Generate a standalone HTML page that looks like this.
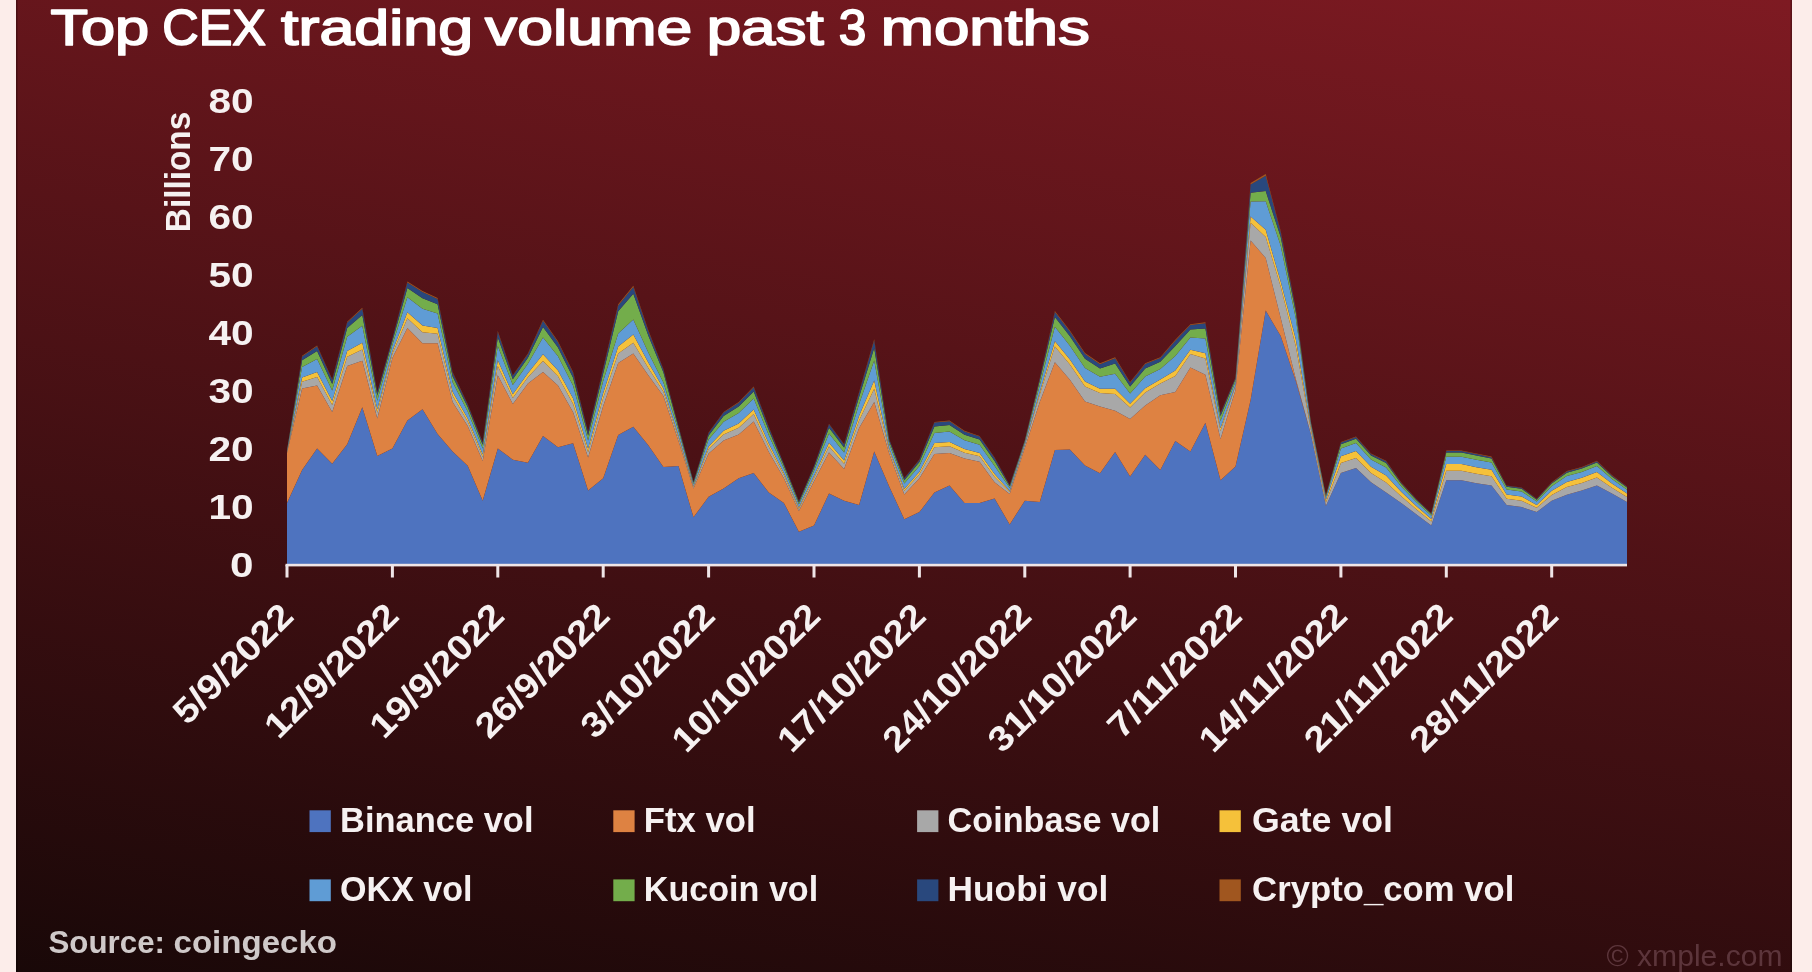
<!DOCTYPE html>
<html lang="en">
<head>
<meta charset="utf-8">
<title>Top CEX trading volume past 3 months</title>
<style>
html,body{margin:0;padding:0;}
body{width:1812px;height:972px;overflow:hidden;background:#fcedea;position:relative;font-family:"Liberation Sans",sans-serif;}
.card{position:absolute;left:16px;top:0;width:1776px;height:972px;background:linear-gradient(9.7deg,#190808 0%,#7e1a22 100%);box-shadow:inset 1.5px 0 0 rgba(0,0,0,0.28),inset -1.5px 0 0 rgba(0,0,0,0.28);}
svg{position:absolute;left:0;top:0;display:block;filter:blur(0.45px);}
text{font-family:"Liberation Sans",sans-serif;}
.cal{font-weight:bold;fill:#f6f1f1;}
.pop{font-weight:normal;fill:#ffffff;stroke:#ffffff;stroke-width:1.7px;stroke-linejoin:round;}
.src{font-weight:bold;fill:#cfc9c9;}
.wm{font-weight:normal;fill:#5c353b;}
</style>
</head>
<body>
<div class="card"></div>
<svg width="1812" height="972" viewBox="0 0 1812 972">
<g id="areas">
<polygon fill="#4e73bf" points="287.0,502.9 302.1,470.0 317.1,448.4 332.2,463.8 347.2,444.2 362.3,407.2 377.3,456.0 392.4,448.4 407.4,420.6 422.5,409.3 437.6,434.0 452.6,451.4 467.7,465.8 482.7,500.8 497.8,448.4 512.8,459.7 527.9,462.8 543.0,436.0 558.0,447.3 573.1,443.2 588.1,490.5 603.2,478.2 618.2,435.0 633.3,426.7 648.3,445.3 663.4,466.9 678.5,466.0 693.5,517.3 708.6,496.7 723.6,488.5 738.7,478.2 753.7,473.0 768.8,492.6 783.9,502.9 798.9,531.7 814.0,525.5 829.0,493.6 844.1,500.8 859.1,504.9 874.2,451.4 889.2,486.4 904.3,519.3 919.4,512.1 934.4,492.6 949.5,485.4 964.5,502.9 979.6,502.9 994.6,498.5 1009.7,524.5 1024.8,500.8 1039.8,501.9 1054.9,450.0 1069.9,449.5 1085.0,465.5 1100.0,473.2 1115.1,452.0 1130.1,476.5 1145.2,454.7 1160.3,470.1 1175.3,441.0 1190.4,451.6 1205.4,422.8 1220.5,480.2 1235.5,466.5 1250.6,400.0 1265.7,310.5 1280.7,336.0 1295.8,381.0 1310.8,434.0 1325.9,506.0 1340.9,473.0 1356.0,468.0 1371.0,482.3 1386.1,492.6 1401.2,502.9 1416.2,514.2 1431.3,525.5 1446.3,480.2 1461.4,480.2 1476.4,483.3 1491.5,485.4 1506.6,504.9 1521.6,507.0 1536.7,512.1 1551.7,500.8 1566.8,494.7 1581.8,490.5 1596.9,485.4 1611.9,493.6 1627.0,501.9 1627.0,565.0 1611.9,565.0 1596.9,565.0 1581.8,565.0 1566.8,565.0 1551.7,565.0 1536.7,565.0 1521.6,565.0 1506.6,565.0 1491.5,565.0 1476.4,565.0 1461.4,565.0 1446.3,565.0 1431.3,565.0 1416.2,565.0 1401.2,565.0 1386.1,565.0 1371.0,565.0 1356.0,565.0 1340.9,565.0 1325.9,565.0 1310.8,565.0 1295.8,565.0 1280.7,565.0 1265.7,565.0 1250.6,565.0 1235.5,565.0 1220.5,565.0 1205.4,565.0 1190.4,565.0 1175.3,565.0 1160.3,565.0 1145.2,565.0 1130.1,565.0 1115.1,565.0 1100.0,565.0 1085.0,565.0 1069.9,565.0 1054.9,565.0 1039.8,565.0 1024.8,565.0 1009.7,565.0 994.6,565.0 979.6,565.0 964.5,565.0 949.5,565.0 934.4,565.0 919.4,565.0 904.3,565.0 889.2,565.0 874.2,565.0 859.1,565.0 844.1,565.0 829.0,565.0 814.0,565.0 798.9,565.0 783.9,565.0 768.8,565.0 753.7,565.0 738.7,565.0 723.6,565.0 708.6,565.0 693.5,565.0 678.5,565.0 663.4,565.0 648.3,565.0 633.3,565.0 618.2,565.0 603.2,565.0 588.1,565.0 573.1,565.0 558.0,565.0 543.0,565.0 527.9,565.0 512.8,565.0 497.8,565.0 482.7,565.0 467.7,565.0 452.6,565.0 437.6,565.0 422.5,565.0 407.4,565.0 392.4,565.0 377.3,565.0 362.3,565.0 347.2,565.0 332.2,565.0 317.1,565.0 302.1,565.0 287.0,565.0"/>
<polygon fill="#de8242" points="287.0,453.0 302.1,388.6 317.1,385.5 332.2,412.0 347.2,366.0 362.3,360.8 377.3,418.4 392.4,358.0 407.4,327.9 422.5,343.3 437.6,343.3 452.6,402.0 467.7,426.0 482.7,461.0 497.8,375.2 512.8,404.0 527.9,383.5 543.0,372.1 558.0,385.5 573.1,412.3 588.1,457.6 603.2,406.0 618.2,362.9 633.3,353.6 648.3,375.2 663.4,396.0 678.5,441.0 693.5,488.5 708.6,453.5 723.6,440.5 738.7,434.5 753.7,421.5 768.8,452.0 783.9,478.2 798.9,511.0 814.0,481.3 829.0,452.5 844.1,468.9 859.1,428.0 874.2,402.0 889.2,453.5 904.3,494.5 919.4,478.2 934.4,454.0 949.5,453.0 964.5,458.5 979.6,461.7 994.6,482.3 1009.7,494.0 1024.8,448.0 1039.8,402.0 1054.9,362.3 1069.9,379.8 1085.0,401.4 1100.0,406.5 1115.1,410.7 1130.1,419.0 1145.2,405.5 1160.3,395.2 1175.3,392.1 1190.4,367.4 1205.4,374.7 1220.5,439.0 1235.5,390.0 1250.6,240.5 1265.7,258.0 1280.7,318.0 1295.8,379.0 1310.8,434.0 1325.9,506.0 1340.9,473.0 1356.0,468.0 1371.0,482.3 1386.1,492.6 1401.2,502.9 1416.2,514.2 1431.3,525.5 1446.3,480.2 1461.4,480.2 1476.4,483.3 1491.5,485.4 1506.6,504.9 1521.6,507.0 1536.7,512.1 1551.7,500.8 1566.8,494.7 1581.8,490.5 1596.9,485.4 1611.9,493.6 1627.0,501.9 1627.0,501.9 1611.9,493.6 1596.9,485.4 1581.8,490.5 1566.8,494.7 1551.7,500.8 1536.7,512.1 1521.6,507.0 1506.6,504.9 1491.5,485.4 1476.4,483.3 1461.4,480.2 1446.3,480.2 1431.3,525.5 1416.2,514.2 1401.2,502.9 1386.1,492.6 1371.0,482.3 1356.0,468.0 1340.9,473.0 1325.9,506.0 1310.8,434.0 1295.8,381.0 1280.7,336.0 1265.7,310.5 1250.6,400.0 1235.5,466.5 1220.5,480.2 1205.4,422.8 1190.4,451.6 1175.3,441.0 1160.3,470.1 1145.2,454.7 1130.1,476.5 1115.1,452.0 1100.0,473.2 1085.0,465.5 1069.9,449.5 1054.9,450.0 1039.8,501.9 1024.8,500.8 1009.7,524.5 994.6,498.5 979.6,502.9 964.5,502.9 949.5,485.4 934.4,492.6 919.4,512.1 904.3,519.3 889.2,486.4 874.2,451.4 859.1,504.9 844.1,500.8 829.0,493.6 814.0,525.5 798.9,531.7 783.9,502.9 768.8,492.6 753.7,473.0 738.7,478.2 723.6,488.5 708.6,496.7 693.5,517.3 678.5,466.0 663.4,466.9 648.3,445.3 633.3,426.7 618.2,435.0 603.2,478.2 588.1,490.5 573.1,443.2 558.0,447.3 543.0,436.0 527.9,462.8 512.8,459.7 497.8,448.4 482.7,500.8 467.7,465.8 452.6,451.4 437.6,434.0 422.5,409.3 407.4,420.6 392.4,448.4 377.3,456.0 362.3,407.2 347.2,444.2 332.2,463.8 317.1,448.4 302.1,470.0 287.0,502.9"/>
<polygon fill="#a8a8a8" points="287.0,452.4 302.1,381.7 317.1,377.1 332.2,405.1 347.2,356.7 362.3,349.6 377.3,412.8 392.4,353.8 407.4,318.2 422.5,332.3 437.6,333.8 452.6,395.7 467.7,421.4 482.7,457.0 497.8,365.9 512.8,398.0 527.9,377.2 543.0,361.1 558.0,376.2 573.1,403.9 588.1,452.2 603.2,398.0 618.2,353.5 633.3,342.7 648.3,368.0 663.4,391.7 678.5,437.9 693.5,487.0 708.6,449.1 723.6,434.5 738.7,427.7 753.7,414.1 768.8,446.7 783.9,475.2 798.9,508.9 814.0,478.0 829.0,446.5 844.1,463.7 859.1,420.4 874.2,388.8 889.2,450.5 904.3,491.0 919.4,474.3 934.4,447.3 949.5,446.2 964.5,452.7 979.6,456.3 994.6,477.1 1009.7,492.1 1024.8,445.5 1039.8,394.5 1054.9,346.4 1069.9,364.5 1085.0,386.4 1100.0,393.1 1115.1,394.1 1130.1,407.5 1145.2,392.4 1160.3,383.4 1175.3,375.9 1190.4,354.0 1205.4,358.4 1220.5,430.9 1235.5,386.1 1250.6,222.7 1265.7,237.0 1280.7,286.7 1295.8,346.3 1310.8,429.8 1325.9,502.5 1340.9,463.1 1356.0,457.9 1371.0,473.1 1386.1,482.4 1401.2,496.3 1416.2,509.3 1431.3,521.6 1446.3,470.7 1461.4,470.7 1476.4,473.8 1491.5,476.2 1506.6,498.7 1521.6,500.7 1536.7,507.8 1551.7,494.9 1566.8,487.1 1581.8,482.9 1596.9,477.5 1611.9,487.7 1627.0,496.9 1627.0,501.9 1611.9,493.6 1596.9,485.4 1581.8,490.5 1566.8,494.7 1551.7,500.8 1536.7,512.1 1521.6,507.0 1506.6,504.9 1491.5,485.4 1476.4,483.3 1461.4,480.2 1446.3,480.2 1431.3,525.5 1416.2,514.2 1401.2,502.9 1386.1,492.6 1371.0,482.3 1356.0,468.0 1340.9,473.0 1325.9,506.0 1310.8,434.0 1295.8,379.0 1280.7,318.0 1265.7,258.0 1250.6,240.5 1235.5,390.0 1220.5,439.0 1205.4,374.7 1190.4,367.4 1175.3,392.1 1160.3,395.2 1145.2,405.5 1130.1,419.0 1115.1,410.7 1100.0,406.5 1085.0,401.4 1069.9,379.8 1054.9,362.3 1039.8,402.0 1024.8,448.0 1009.7,494.0 994.6,482.3 979.6,461.7 964.5,458.5 949.5,453.0 934.4,454.0 919.4,478.2 904.3,494.5 889.2,453.5 874.2,402.0 859.1,428.0 844.1,468.9 829.0,452.5 814.0,481.3 798.9,511.0 783.9,478.2 768.8,452.0 753.7,421.5 738.7,434.5 723.6,440.5 708.6,453.5 693.5,488.5 678.5,441.0 663.4,396.0 648.3,375.2 633.3,353.6 618.2,362.9 603.2,406.0 588.1,457.6 573.1,412.3 558.0,385.5 543.0,372.1 527.9,383.5 512.8,404.0 497.8,375.2 482.7,461.0 467.7,426.0 452.6,402.0 437.6,343.3 422.5,343.3 407.4,327.9 392.4,358.0 377.3,418.4 362.3,360.8 347.2,366.0 332.2,412.0 317.1,385.5 302.1,388.6 287.0,453.0"/>
<polygon fill="#f5c13a" points="287.0,452.0 302.1,377.4 317.1,371.9 332.2,400.9 347.2,350.9 362.3,342.7 377.3,409.3 392.4,351.3 407.4,312.2 422.5,325.5 437.6,327.9 452.6,391.8 467.7,418.5 482.7,454.5 497.8,360.2 512.8,394.2 527.9,373.3 543.0,354.3 558.0,370.5 573.1,398.6 588.1,448.8 603.2,393.1 618.2,346.5 633.3,334.6 648.3,362.5 663.4,388.4 678.5,435.9 693.5,486.1 708.6,446.4 723.6,430.8 738.7,423.4 753.7,409.6 768.8,443.4 783.9,473.3 798.9,507.6 814.0,476.0 829.0,442.7 844.1,460.4 859.1,415.8 874.2,380.6 889.2,448.6 904.3,488.9 919.4,471.8 934.4,443.1 949.5,441.9 964.5,449.1 979.6,453.0 994.6,473.9 1009.7,490.9 1024.8,444.7 1039.8,392.0 1054.9,341.2 1069.9,359.5 1085.0,381.6 1100.0,388.8 1115.1,388.8 1130.1,403.8 1145.2,388.2 1160.3,379.6 1175.3,370.6 1190.4,349.7 1205.4,353.2 1220.5,428.3 1235.5,384.9 1250.6,216.4 1265.7,229.8 1280.7,281.5 1295.8,339.2 1310.8,427.0 1325.9,500.1 1340.9,456.3 1356.0,451.0 1371.0,466.7 1386.1,475.4 1401.2,491.8 1416.2,505.9 1431.3,518.9 1446.3,464.1 1461.4,464.1 1476.4,467.2 1491.5,469.8 1506.6,494.4 1521.6,496.4 1536.7,504.9 1551.7,490.8 1566.8,481.9 1581.8,477.8 1596.9,472.1 1611.9,483.6 1627.0,493.5 1627.0,496.9 1611.9,487.7 1596.9,477.5 1581.8,482.9 1566.8,487.1 1551.7,494.9 1536.7,507.8 1521.6,500.7 1506.6,498.7 1491.5,476.2 1476.4,473.8 1461.4,470.7 1446.3,470.7 1431.3,521.6 1416.2,509.3 1401.2,496.3 1386.1,482.4 1371.0,473.1 1356.0,457.9 1340.9,463.1 1325.9,502.5 1310.8,429.8 1295.8,346.3 1280.7,286.7 1265.7,237.0 1250.6,222.7 1235.5,386.1 1220.5,430.9 1205.4,358.4 1190.4,354.0 1175.3,375.9 1160.3,383.4 1145.2,392.4 1130.1,407.5 1115.1,394.1 1100.0,393.1 1085.0,386.4 1069.9,364.5 1054.9,346.4 1039.8,394.5 1024.8,445.5 1009.7,492.1 994.6,477.1 979.6,456.3 964.5,452.7 949.5,446.2 934.4,447.3 919.4,474.3 904.3,491.0 889.2,450.5 874.2,388.8 859.1,420.4 844.1,463.7 829.0,446.5 814.0,478.0 798.9,508.9 783.9,475.2 768.8,446.7 753.7,414.1 738.7,427.7 723.6,434.5 708.6,449.1 693.5,487.0 678.5,437.9 663.4,391.7 648.3,368.0 633.3,342.7 618.2,353.5 603.2,398.0 588.1,452.2 573.1,403.9 558.0,376.2 543.0,361.1 527.9,377.2 512.8,398.0 497.8,365.9 482.7,457.0 467.7,421.4 452.6,395.7 437.6,333.8 422.5,332.3 407.4,318.2 392.4,353.8 377.3,412.8 362.3,349.6 347.2,356.7 332.2,405.1 317.1,377.1 302.1,381.7 287.0,452.4"/>
<polygon fill="#5f9cd5" points="287.0,451.0 302.1,366.9 317.1,359.0 332.2,390.4 347.2,336.8 362.3,325.8 377.3,400.8 392.4,344.9 407.4,297.3 422.5,308.7 437.6,313.4 452.6,382.3 467.7,411.5 482.7,448.5 497.8,346.0 512.8,385.0 527.9,363.8 543.0,337.5 558.0,356.3 573.1,385.8 588.1,440.6 603.2,380.9 618.2,333.6 633.3,319.6 648.3,352.6 663.4,382.5 678.5,431.1 693.5,483.9 708.6,439.6 723.6,421.7 738.7,413.1 753.7,398.4 768.8,435.3 783.9,468.7 798.9,504.4 814.0,471.1 829.0,433.5 844.1,452.5 859.1,404.2 874.2,360.6 889.2,443.9 904.3,483.6 919.4,465.9 934.4,432.9 949.5,431.6 964.5,440.2 979.6,444.7 994.6,465.9 1009.7,488.1 1024.8,442.5 1039.8,385.2 1054.9,326.8 1069.9,345.7 1085.0,368.0 1100.0,376.7 1115.1,373.8 1130.1,393.5 1145.2,376.4 1160.3,369.0 1175.3,355.9 1190.4,337.6 1205.4,338.5 1220.5,421.1 1235.5,381.4 1250.6,201.4 1265.7,201.2 1280.7,245.8 1295.8,318.6 1310.8,423.7 1325.9,497.3 1340.9,448.5 1356.0,443.1 1371.0,459.5 1386.1,467.4 1401.2,486.6 1416.2,502.0 1431.3,515.8 1446.3,456.7 1461.4,456.7 1476.4,459.8 1491.5,462.6 1506.6,489.5 1521.6,491.5 1536.7,501.6 1551.7,486.2 1566.8,476.0 1581.8,471.9 1596.9,465.9 1611.9,479.0 1627.0,489.7 1627.0,493.5 1611.9,483.6 1596.9,472.1 1581.8,477.8 1566.8,481.9 1551.7,490.8 1536.7,504.9 1521.6,496.4 1506.6,494.4 1491.5,469.8 1476.4,467.2 1461.4,464.1 1446.3,464.1 1431.3,518.9 1416.2,505.9 1401.2,491.8 1386.1,475.4 1371.0,466.7 1356.0,451.0 1340.9,456.3 1325.9,500.1 1310.8,427.0 1295.8,339.2 1280.7,281.5 1265.7,229.8 1250.6,216.4 1235.5,384.9 1220.5,428.3 1205.4,353.2 1190.4,349.7 1175.3,370.6 1160.3,379.6 1145.2,388.2 1130.1,403.8 1115.1,388.8 1100.0,388.8 1085.0,381.6 1069.9,359.5 1054.9,341.2 1039.8,392.0 1024.8,444.7 1009.7,490.9 994.6,473.9 979.6,453.0 964.5,449.1 949.5,441.9 934.4,443.1 919.4,471.8 904.3,488.9 889.2,448.6 874.2,380.6 859.1,415.8 844.1,460.4 829.0,442.7 814.0,476.0 798.9,507.6 783.9,473.3 768.8,443.4 753.7,409.6 738.7,423.4 723.6,430.8 708.6,446.4 693.5,486.1 678.5,435.9 663.4,388.4 648.3,362.5 633.3,334.6 618.2,346.5 603.2,393.1 588.1,448.8 573.1,398.6 558.0,370.5 543.0,354.3 527.9,373.3 512.8,394.2 497.8,360.2 482.7,454.5 467.7,418.5 452.6,391.8 437.6,327.9 422.5,325.5 407.4,312.2 392.4,351.3 377.3,409.3 362.3,342.7 347.2,350.9 332.2,400.9 317.1,371.9 302.1,377.4 287.0,452.0"/>
<polygon fill="#73ad4b" points="287.0,450.4 302.1,360.3 317.1,351.0 332.2,383.9 347.2,327.9 362.3,315.1 377.3,395.4 392.4,341.0 407.4,288.1 422.5,298.2 437.6,304.3 452.6,376.3 467.7,407.1 482.7,444.7 497.8,337.2 512.8,379.2 527.9,357.8 543.0,327.0 558.0,347.5 573.1,377.7 588.1,435.4 603.2,373.3 618.2,311.2 633.3,293.8 648.3,335.4 663.4,372.2 678.5,428.1 693.5,482.5 708.6,435.4 723.6,416.0 738.7,406.6 753.7,391.4 768.8,430.2 783.9,465.8 798.9,502.4 814.0,468.0 829.0,427.7 844.1,447.5 859.1,397.0 874.2,348.0 889.2,441.0 904.3,480.3 919.4,462.1 934.4,426.5 949.5,425.1 964.5,434.7 979.6,439.6 994.6,461.0 1009.7,486.3 1024.8,441.0 1039.8,380.6 1054.9,317.1 1069.9,336.3 1085.0,358.8 1100.0,368.5 1115.1,363.6 1130.1,386.4 1145.2,368.4 1160.3,361.8 1175.3,346.0 1190.4,329.4 1205.4,328.5 1220.5,416.1 1235.5,379.0 1250.6,192.8 1265.7,191.1 1280.7,237.1 1295.8,312.3 1310.8,421.9 1325.9,495.8 1340.9,444.2 1356.0,438.7 1371.0,455.5 1386.1,462.9 1401.2,483.7 1416.2,499.9 1431.3,514.1 1446.3,452.5 1461.4,452.5 1476.4,455.6 1491.5,458.6 1506.6,486.8 1521.6,488.8 1536.7,499.7 1551.7,483.6 1566.8,472.7 1581.8,468.6 1596.9,462.4 1611.9,476.4 1627.0,487.5 1627.0,489.7 1611.9,479.0 1596.9,465.9 1581.8,471.9 1566.8,476.0 1551.7,486.2 1536.7,501.6 1521.6,491.5 1506.6,489.5 1491.5,462.6 1476.4,459.8 1461.4,456.7 1446.3,456.7 1431.3,515.8 1416.2,502.0 1401.2,486.6 1386.1,467.4 1371.0,459.5 1356.0,443.1 1340.9,448.5 1325.9,497.3 1310.8,423.7 1295.8,318.6 1280.7,245.8 1265.7,201.2 1250.6,201.4 1235.5,381.4 1220.5,421.1 1205.4,338.5 1190.4,337.6 1175.3,355.9 1160.3,369.0 1145.2,376.4 1130.1,393.5 1115.1,373.8 1100.0,376.7 1085.0,368.0 1069.9,345.7 1054.9,326.8 1039.8,385.2 1024.8,442.5 1009.7,488.1 994.6,465.9 979.6,444.7 964.5,440.2 949.5,431.6 934.4,432.9 919.4,465.9 904.3,483.6 889.2,443.9 874.2,360.6 859.1,404.2 844.1,452.5 829.0,433.5 814.0,471.1 798.9,504.4 783.9,468.7 768.8,435.3 753.7,398.4 738.7,413.1 723.6,421.7 708.6,439.6 693.5,483.9 678.5,431.1 663.4,382.5 648.3,352.6 633.3,319.6 618.2,333.6 603.2,380.9 588.1,440.6 573.1,385.8 558.0,356.3 543.0,337.5 527.9,363.8 512.8,385.0 497.8,346.0 482.7,448.5 467.7,411.5 452.6,382.3 437.6,313.4 422.5,308.7 407.4,297.3 392.4,344.9 377.3,400.8 362.3,325.8 347.2,336.8 332.2,390.4 317.1,359.0 302.1,366.9 287.0,451.0"/>
<polygon fill="#29487d" points="287.0,450.1 302.1,356.4 317.1,346.2 332.2,380.0 347.2,322.6 362.3,308.8 377.3,392.2 392.4,338.6 407.4,282.5 422.5,291.9 437.6,298.9 452.6,372.7 467.7,404.4 482.7,442.4 497.8,331.9 512.8,375.8 527.9,354.2 543.0,320.7 558.0,342.2 573.1,372.9 588.1,432.3 603.2,368.8 618.2,305.4 633.3,287.1 648.3,330.9 663.4,369.5 678.5,426.3 693.5,481.6 708.6,432.9 723.6,412.6 738.7,402.7 753.7,387.2 768.8,427.2 783.9,464.1 798.9,501.2 814.0,466.1 829.0,424.3 844.1,444.5 859.1,392.7 874.2,340.5 889.2,439.3 904.3,478.3 919.4,459.9 934.4,422.6 949.5,421.2 964.5,431.4 979.6,436.5 994.6,458.0 1009.7,485.2 1024.8,440.2 1039.8,378.2 1054.9,311.9 1069.9,331.4 1085.0,354.0 1100.0,364.2 1115.1,358.3 1130.1,382.7 1145.2,364.1 1160.3,358.0 1175.3,340.7 1190.4,325.1 1205.4,323.2 1220.5,413.5 1235.5,377.8 1250.6,184.4 1265.7,175.7 1280.7,231.9 1295.8,308.7 1310.8,421.3 1325.9,495.2 1340.9,442.6 1356.0,437.1 1371.0,454.1 1386.1,461.3 1401.2,482.7 1416.2,499.1 1431.3,513.4 1446.3,451.0 1461.4,451.0 1476.4,454.1 1491.5,457.2 1506.6,485.8 1521.6,487.8 1536.7,499.1 1551.7,482.7 1566.8,471.5 1581.8,467.4 1596.9,461.2 1611.9,475.5 1627.0,486.7 1627.0,487.5 1611.9,476.4 1596.9,462.4 1581.8,468.6 1566.8,472.7 1551.7,483.6 1536.7,499.7 1521.6,488.8 1506.6,486.8 1491.5,458.6 1476.4,455.6 1461.4,452.5 1446.3,452.5 1431.3,514.1 1416.2,499.9 1401.2,483.7 1386.1,462.9 1371.0,455.5 1356.0,438.7 1340.9,444.2 1325.9,495.8 1310.8,421.9 1295.8,312.3 1280.7,237.1 1265.7,191.1 1250.6,192.8 1235.5,379.0 1220.5,416.1 1205.4,328.5 1190.4,329.4 1175.3,346.0 1160.3,361.8 1145.2,368.4 1130.1,386.4 1115.1,363.6 1100.0,368.5 1085.0,358.8 1069.9,336.3 1054.9,317.1 1039.8,380.6 1024.8,441.0 1009.7,486.3 994.6,461.0 979.6,439.6 964.5,434.7 949.5,425.1 934.4,426.5 919.4,462.1 904.3,480.3 889.2,441.0 874.2,348.0 859.1,397.0 844.1,447.5 829.0,427.7 814.0,468.0 798.9,502.4 783.9,465.8 768.8,430.2 753.7,391.4 738.7,406.6 723.6,416.0 708.6,435.4 693.5,482.5 678.5,428.1 663.4,372.2 648.3,335.4 633.3,293.8 618.2,311.2 603.2,373.3 588.1,435.4 573.1,377.7 558.0,347.5 543.0,327.0 527.9,357.8 512.8,379.2 497.8,337.2 482.7,444.7 467.7,407.1 452.6,376.3 437.6,304.3 422.5,298.2 407.4,288.1 392.4,341.0 377.3,395.4 362.3,315.1 347.2,327.9 332.2,383.9 317.1,351.0 302.1,360.3 287.0,450.4"/>
<polygon fill="#a0561f" points="287.0,450.0 302.1,355.7 317.1,345.4 332.2,379.3 347.2,321.7 362.3,307.7 377.3,391.7 392.4,338.2 407.4,281.6 422.5,290.9 437.6,298.0 452.6,372.1 467.7,404.0 482.7,442.0 497.8,331.0 512.8,375.2 527.9,353.6 543.0,319.7 558.0,341.3 573.1,372.1 588.1,431.8 603.2,368.0 618.2,304.2 633.3,285.7 648.3,330.0 663.4,369.0 678.5,426.0 693.5,481.5 708.6,432.5 723.6,412.0 738.7,402.0 753.7,386.5 768.8,426.7 783.9,463.8 798.9,501.0 814.0,465.8 829.0,423.7 844.1,444.0 859.1,392.0 874.2,339.2 889.2,439.0 904.3,478.0 919.4,459.5 934.4,422.0 949.5,420.5 964.5,430.8 979.6,436.0 994.6,457.5 1009.7,485.0 1024.8,440.0 1039.8,377.7 1054.9,310.9 1069.9,330.4 1085.0,353.0 1100.0,363.3 1115.1,357.2 1130.1,382.0 1145.2,363.3 1160.3,357.2 1175.3,339.7 1190.4,324.2 1205.4,322.2 1220.5,413.0 1235.5,377.5 1250.6,183.0 1265.7,174.0 1280.7,231.0 1295.8,308.0 1310.8,421.0 1325.9,495.0 1340.9,442.0 1356.0,436.5 1371.0,453.5 1386.1,460.7 1401.2,482.3 1416.2,498.8 1431.3,513.2 1446.3,450.4 1461.4,450.4 1476.4,453.5 1491.5,456.6 1506.6,485.4 1521.6,487.4 1536.7,498.8 1551.7,482.3 1566.8,471.0 1581.8,466.9 1596.9,460.7 1611.9,475.1 1627.0,486.4 1627.0,486.7 1611.9,475.5 1596.9,461.2 1581.8,467.4 1566.8,471.5 1551.7,482.7 1536.7,499.1 1521.6,487.8 1506.6,485.8 1491.5,457.2 1476.4,454.1 1461.4,451.0 1446.3,451.0 1431.3,513.4 1416.2,499.1 1401.2,482.7 1386.1,461.3 1371.0,454.1 1356.0,437.1 1340.9,442.6 1325.9,495.2 1310.8,421.3 1295.8,308.7 1280.7,231.9 1265.7,175.7 1250.6,184.4 1235.5,377.8 1220.5,413.5 1205.4,323.2 1190.4,325.1 1175.3,340.7 1160.3,358.0 1145.2,364.1 1130.1,382.7 1115.1,358.3 1100.0,364.2 1085.0,354.0 1069.9,331.4 1054.9,311.9 1039.8,378.2 1024.8,440.2 1009.7,485.2 994.6,458.0 979.6,436.5 964.5,431.4 949.5,421.2 934.4,422.6 919.4,459.9 904.3,478.3 889.2,439.3 874.2,340.5 859.1,392.7 844.1,444.5 829.0,424.3 814.0,466.1 798.9,501.2 783.9,464.1 768.8,427.2 753.7,387.2 738.7,402.7 723.6,412.6 708.6,432.9 693.5,481.6 678.5,426.3 663.4,369.5 648.3,330.9 633.3,287.1 618.2,305.4 603.2,368.8 588.1,432.3 573.1,372.9 558.0,342.2 543.0,320.7 527.9,354.2 512.8,375.8 497.8,331.9 482.7,442.4 467.7,404.4 452.6,372.7 437.6,298.9 422.5,291.9 407.4,282.5 392.4,338.6 377.3,392.2 362.3,308.8 347.2,322.6 332.2,380.0 317.1,346.2 302.1,356.4 287.0,450.1"/>
</g>
<g id="axis"><rect x="285.5" y="563.8" width="1341.5" height="2.6" fill="#efe5e7"/><rect x="285.5" y="565.0" width="3" height="12.5" fill="#efe5e7"/><rect x="390.9" y="565.0" width="3" height="12.5" fill="#efe5e7"/><rect x="496.3" y="565.0" width="3" height="12.5" fill="#efe5e7"/><rect x="601.7" y="565.0" width="3" height="12.5" fill="#efe5e7"/><rect x="707.1" y="565.0" width="3" height="12.5" fill="#efe5e7"/><rect x="812.5" y="565.0" width="3" height="12.5" fill="#efe5e7"/><rect x="917.9" y="565.0" width="3" height="12.5" fill="#efe5e7"/><rect x="1023.3" y="565.0" width="3" height="12.5" fill="#efe5e7"/><rect x="1128.6" y="565.0" width="3" height="12.5" fill="#efe5e7"/><rect x="1234.0" y="565.0" width="3" height="12.5" fill="#efe5e7"/><rect x="1339.4" y="565.0" width="3" height="12.5" fill="#efe5e7"/><rect x="1444.8" y="565.0" width="3" height="12.5" fill="#efe5e7"/><rect x="1550.2" y="565.0" width="3" height="12.5" fill="#efe5e7"/></g>
<g id="ylabels"><text class="cal" x="253.6" y="577.2" text-anchor="end" font-size="35.2" textLength="23.5" lengthAdjust="spacingAndGlyphs">0</text><text class="cal" x="253.6" y="519.2" text-anchor="end" font-size="35.2" textLength="45.2" lengthAdjust="spacingAndGlyphs">10</text><text class="cal" x="253.6" y="461.2" text-anchor="end" font-size="35.2" textLength="45.2" lengthAdjust="spacingAndGlyphs">20</text><text class="cal" x="253.6" y="403.2" text-anchor="end" font-size="35.2" textLength="45.2" lengthAdjust="spacingAndGlyphs">30</text><text class="cal" x="253.6" y="345.2" text-anchor="end" font-size="35.2" textLength="45.2" lengthAdjust="spacingAndGlyphs">40</text><text class="cal" x="253.6" y="287.2" text-anchor="end" font-size="35.2" textLength="45.2" lengthAdjust="spacingAndGlyphs">50</text><text class="cal" x="253.6" y="229.2" text-anchor="end" font-size="35.2" textLength="45.2" lengthAdjust="spacingAndGlyphs">60</text><text class="cal" x="253.6" y="171.2" text-anchor="end" font-size="35.2" textLength="45.2" lengthAdjust="spacingAndGlyphs">70</text><text class="cal" x="253.6" y="113.2" text-anchor="end" font-size="35.2" textLength="45.2" lengthAdjust="spacingAndGlyphs">80</text></g>
<text class="cal" transform="translate(189.6,232.2) rotate(-90)" x="0" y="0" font-size="35.5" textLength="120.5" lengthAdjust="spacingAndGlyphs">Billions</text>
<g id="xlabels"><text class="cal" transform="translate(295.5,618) rotate(-45)" x="0" y="0" text-anchor="end" font-size="35.2" textLength="153.0" lengthAdjust="spacingAndGlyphs">5/9/2022</text><text class="cal" transform="translate(400.9,618) rotate(-45)" x="0" y="0" text-anchor="end" font-size="35.2" textLength="172.8" lengthAdjust="spacingAndGlyphs">12/9/2022</text><text class="cal" transform="translate(506.3,618) rotate(-45)" x="0" y="0" text-anchor="end" font-size="35.2" textLength="172.8" lengthAdjust="spacingAndGlyphs">19/9/2022</text><text class="cal" transform="translate(611.7,618) rotate(-45)" x="0" y="0" text-anchor="end" font-size="35.2" textLength="172.8" lengthAdjust="spacingAndGlyphs">26/9/2022</text><text class="cal" transform="translate(717.1,618) rotate(-45)" x="0" y="0" text-anchor="end" font-size="35.2" textLength="172.8" lengthAdjust="spacingAndGlyphs">3/10/2022</text><text class="cal" transform="translate(822.5,618) rotate(-45)" x="0" y="0" text-anchor="end" font-size="35.2" textLength="192.7" lengthAdjust="spacingAndGlyphs">10/10/2022</text><text class="cal" transform="translate(927.9,618) rotate(-45)" x="0" y="0" text-anchor="end" font-size="35.2" textLength="192.7" lengthAdjust="spacingAndGlyphs">17/10/2022</text><text class="cal" transform="translate(1033.3,618) rotate(-45)" x="0" y="0" text-anchor="end" font-size="35.2" textLength="192.7" lengthAdjust="spacingAndGlyphs">24/10/2022</text><text class="cal" transform="translate(1138.6,618) rotate(-45)" x="0" y="0" text-anchor="end" font-size="35.2" textLength="192.7" lengthAdjust="spacingAndGlyphs">31/10/2022</text><text class="cal" transform="translate(1244.0,618) rotate(-45)" x="0" y="0" text-anchor="end" font-size="35.2" textLength="172.8" lengthAdjust="spacingAndGlyphs">7/11/2022</text><text class="cal" transform="translate(1349.4,618) rotate(-45)" x="0" y="0" text-anchor="end" font-size="35.2" textLength="192.7" lengthAdjust="spacingAndGlyphs">14/11/2022</text><text class="cal" transform="translate(1454.8,618) rotate(-45)" x="0" y="0" text-anchor="end" font-size="35.2" textLength="192.7" lengthAdjust="spacingAndGlyphs">21/11/2022</text><text class="cal" transform="translate(1560.2,618) rotate(-45)" x="0" y="0" text-anchor="end" font-size="35.2" textLength="192.7" lengthAdjust="spacingAndGlyphs">28/11/2022</text></g>
<g id="legend"><rect x="309.5" y="810.3" width="21.3" height="21.8" fill="#4e73bf"/><text class="cal" x="340.0" y="832.3" font-size="34.5" textLength="193.5" lengthAdjust="spacingAndGlyphs">Binance vol</text><rect x="613.3" y="810.3" width="21.3" height="21.8" fill="#de8242"/><text class="cal" x="643.8" y="832.3" font-size="34.5" textLength="111.8" lengthAdjust="spacingAndGlyphs">Ftx vol</text><rect x="917.1" y="810.3" width="21.3" height="21.8" fill="#a8a8a8"/><text class="cal" x="947.6" y="832.3" font-size="34.5" textLength="212.7" lengthAdjust="spacingAndGlyphs">Coinbase vol</text><rect x="1219.5" y="810.3" width="21.3" height="21.8" fill="#f5c13a"/><text class="cal" x="1252.1" y="832.3" font-size="34.5" textLength="140.9" lengthAdjust="spacingAndGlyphs">Gate vol</text><rect x="309.5" y="879.4" width="21.3" height="21.8" fill="#5f9cd5"/><text class="cal" x="340.0" y="901.4" font-size="34.5" textLength="132.6" lengthAdjust="spacingAndGlyphs">OKX vol</text><rect x="613.3" y="879.4" width="21.3" height="21.8" fill="#73ad4b"/><text class="cal" x="643.8" y="901.4" font-size="34.5" textLength="174.4" lengthAdjust="spacingAndGlyphs">Kucoin vol</text><rect x="917.1" y="879.4" width="21.3" height="21.8" fill="#29487d"/><text class="cal" x="947.6" y="901.4" font-size="34.5" textLength="160.7" lengthAdjust="spacingAndGlyphs">Huobi vol</text><rect x="1219.5" y="879.4" width="21.3" height="21.8" fill="#a0561f"/><text class="cal" x="1252.1" y="901.4" font-size="34.5" textLength="262.3" lengthAdjust="spacingAndGlyphs">Crypto_com vol</text></g>
<g class="pop" font-size="49.5"><text x="50.4" y="44.7" textLength="98.8" lengthAdjust="spacingAndGlyphs">Top</text><text x="162.2" y="44.7" textLength="103.8" lengthAdjust="spacingAndGlyphs">CEX</text><text x="281.1" y="44.7" textLength="192.0" lengthAdjust="spacingAndGlyphs">trading</text><text x="485.0" y="44.7" textLength="207.2" lengthAdjust="spacingAndGlyphs">volume</text><text x="706.7" y="44.7" textLength="117.0" lengthAdjust="spacingAndGlyphs">past</text><text x="838.7" y="44.7" textLength="27.6" lengthAdjust="spacingAndGlyphs">3</text><text x="880.8" y="44.7" textLength="209.0" lengthAdjust="spacingAndGlyphs">months</text></g>
<g class="src" font-size="30.5"><text x="48.5" y="953" textLength="116.5" lengthAdjust="spacingAndGlyphs">Source:</text><text x="173.5" y="953" textLength="163.5" lengthAdjust="spacingAndGlyphs">coingecko</text></g>
<text class="wm" x="1606.5" y="966.3" font-size="29" textLength="176" lengthAdjust="spacingAndGlyphs">© xmple.com</text>
</svg>
</body>
</html>
